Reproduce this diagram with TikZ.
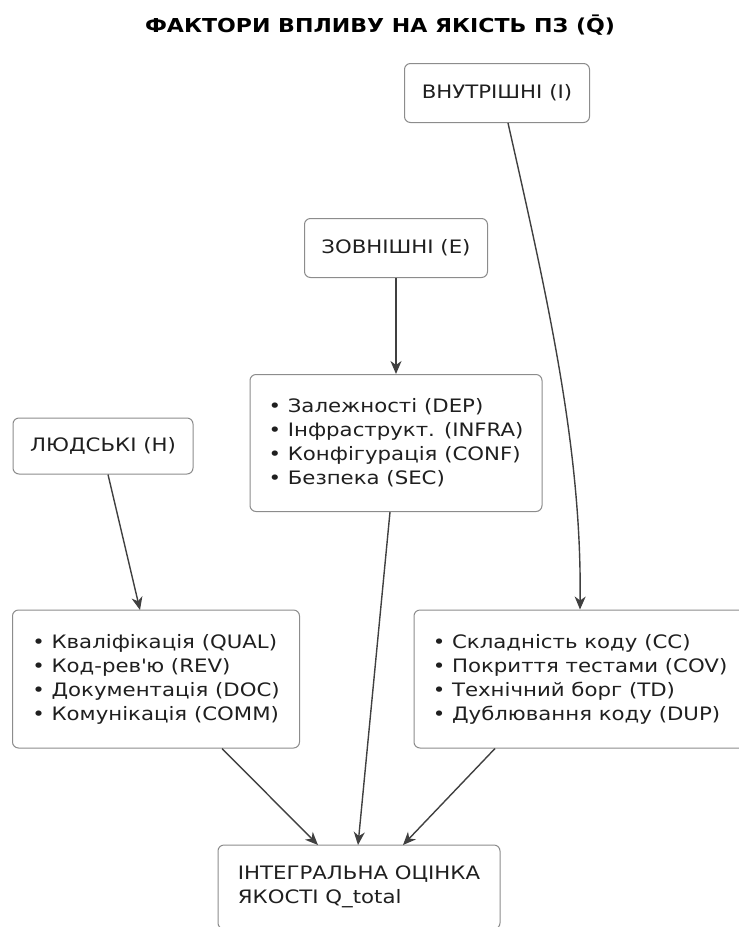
\documentclass[tikz,border=0pt]{standalone}
\usepackage{fontspec}
\setmainfont[FakeStretch=1.15]{DejaVu Sans}
\usetikzlibrary{arrows.meta}

\tikzset{
  factor/.style={draw=black!45, rounded corners=6pt, fill=white, line width=1pt,
    inner xsep=8pt, inner ysep=8pt, align=left, text=black!88,
    font=\fontsize{18.5}{24}\selectfont},
  link/.style={draw=black!75, line width=1.4pt, -{Stealth[length=13pt,width=11pt,inset=4pt]}}
}

\begin{document}
\begin{tikzpicture}[x=1pt, y=-1pt]
        \useasboundingbox (0,0) rectangle (739,927);

        % заголовок
        \node (title) at (380,25) {\fontsize{19.2}{22}\selectfont\bfseries ФАКТОРИ ВПЛИВУ НА ЯКІСТЬ ПЗ (\={Q})};

        % групи факторів
        \node[factor, minimum width=185pt, minimum height=59pt] (inner) at (497,93) {ВНУТРІШНІ (I)};
        \node[factor, minimum width=183pt, minimum height=59pt] (outer) at (396,248) {ЗОВНІШНІ (E)};
        \node[factor, minimum width=180pt, minimum height=56pt] (human) at (103,446) {ЛЮДСЬКІ (H)};

        % списки
        \node[factor, minimum width=292pt, minimum height=137pt] (outerlist) at (396,443) {%
          • Залежності (DEP)\\ • Інфраструкт. (INFRA)\\ • Конфігурація (CONF)\\ • Безпека (SEC)};
        \node[factor, minimum width=287pt, minimum height=138pt] (humanlist) at (156,679) {%
          • Кваліфікація (QUAL)\\ • Код-рев\textquotesingle ю (REV)\\ • Документація (DOC)\\ • Комунікація (COMM)};
        \node[factor, minimum width=332pt, minimum height=138pt] (innerlist) at (580,679) {%
          • Складність коду (CC)\\ • Покриття тестами (COV)\\ • Технічний борг (TD)\\ • Дублювання коду (DUP)};

        % підсумок
        \node[factor, minimum width=282pt, minimum height=84pt] (total) at (359,887) {%
          ІНТЕГРАЛЬНА ОЦІНКА\\ ЯКОСТІ Q\_total};

        % зв'язки
        \draw[link] (inner.south) ++(11,0) coordinate (innerout)
          (innerout) .. controls (548,300) and (582,450) .. (innerlist.north);
        \draw[link] (outer) -- (outerlist);
        \draw[link] (human.south) ++(5,0) coordinate (humanout) (humanout) -- (140,610);
        \draw[link] (humanlist.south) ++(66,0) coordinate (hl) (hl) -- (318,845);
        \draw[link] (outerlist.south) ++(-6,0) coordinate (ol) (ol) -- (358,845);
        \draw[link] (innerlist.south) ++(-85,0) coordinate (il) (il) -- (403,845);
    \end{tikzpicture}
\end{document}
